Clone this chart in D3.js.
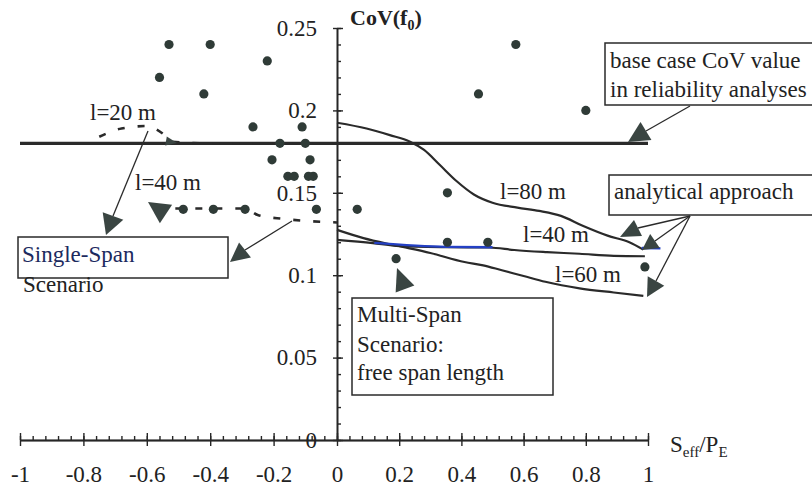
<!DOCTYPE html>
<html>
<head>
<meta charset="utf-8">
<script src="https://cdn.jsdelivr.net/npm/d3@7"></script>
<style>
  body { margin: 0; background: #fff; }
  text { font-family: "Liberation Serif", "Times New Roman", serif; fill: #222; }
</style>
</head>
<body>
<script>
// tick values and labels
var xTicks = [-1, -0.8, -0.6, -0.4, -0.2, 0, 0.2, 0.4, 0.6, 0.8, 1];
var xTickLabels = ["-1", "-0.8", "-0.6", "-0.4", "-0.2", "0", "0.2", "0.4", "0.6", "0.8", "1"];
var yTicks = [0, 0.05, 0.1, 0.15, 0.2, 0.25];
var yTickLabels = ["0", "0.05", "0.1", "0.15", "0.2", "0.25"];

// simulated CoV values [Seff/PE, CoV]
var simPoints = [
    [-0.53, 0.24], [-0.40, 0.24], [-0.56, 0.22], [-0.42, 0.21], [-0.22, 0.23],
    [-0.265, 0.19], [-0.11, 0.19], [-0.18, 0.18], [-0.10, 0.18],
    [-0.205, 0.17], [-0.085, 0.17],
    [-0.155, 0.16], [-0.135, 0.16], [-0.09, 0.16], [-0.075, 0.16],
    [-0.485, 0.14], [-0.39, 0.14], [-0.29, 0.14], [-0.065, 0.14],
    [0.065, 0.14], [0.355, 0.15], [0.355, 0.12], [0.485, 0.12], [0.19, 0.11],
    [0.455, 0.21], [0.575, 0.24], [0.80, 0.20], [0.99, 0.105]
];

// base case CoV used in reliability analyses
var baseCase = 0.18;

// analytical approach curves
var curve80 = [[0, 0.1925], [0.095, 0.189], [0.17, 0.185], [0.235, 0.181], [0.28, 0.176],
    [0.33, 0.167], [0.385, 0.157], [0.44, 0.149], [0.5, 0.144], [0.58, 0.141],
    [0.65, 0.139], [0.72, 0.136], [0.79, 0.130], [0.87, 0.124], [0.94, 0.120], [0.985, 0.1155]];
var curve40 = [[0, 0.1214], [0.115, 0.1195], [0.19, 0.1178], [0.35, 0.117], [0.49, 0.1168],
    [0.57, 0.1153], [0.675, 0.114], [0.78, 0.113], [0.89, 0.1117], [0.99, 0.1115]];
var curve60 = [[0, 0.1275], [0.085, 0.1225], [0.19, 0.118], [0.3, 0.1135], [0.41, 0.108],
    [0.47, 0.106], [0.53, 0.103], [0.6, 0.0995], [0.67, 0.096], [0.78, 0.092],
    [0.89, 0.0895], [0.985, 0.0875]];
var blue40 = [[0.12, 0.1196], [0.35, 0.1172], [0.5, 0.117], null, [0.98, 0.1165], [1.04, 0.1163]];

// single-span dashed curves
var dashed20 = [[-0.75, 0.184], [-0.68, 0.189], [-0.6, 0.1905], [-0.55, 0.186], [-0.52, 0.181], [-0.4, 0.18], [0, 0.18]];
var dashed40 = [[-0.51, 0.1405], [-0.4, 0.1405], [-0.29, 0.1405], [-0.25, 0.1365], [-0.17, 0.1342], [-0.1, 0.133], [0, 0.132]];

var width = 812;
var height = 490;
var ink = "#262626";

var svg = d3.select("body")
    .append("svg")
    .attr("width", width)
    .attr("height", height);

// x scale (scan is slightly uneven left/right of zero)
var xScale = d3.scaleLinear()
    .domain([-1, 0, 1])
    .range([20, 337, 648]);

var yScale = d3.scaleLinear()
    .domain([0, 0.25])
    .range([440, 28]);

var x0 = xScale(0);
var yZero = yScale(0);

// x axis: labels + down part of major ticks
var xAxis = d3.axisBottom(xScale)
    .tickValues(xTicks)
    .tickSize(6)
    .tickSizeOuter(0)
    .tickPadding(20)
    .tickFormat((d, i) => xTickLabels[i]);

var gx = svg.append("g")
    .attr("transform", "translate(0," + yZero + ")")
    .call(xAxis);

// up part of major ticks
svg.append("g")
    .attr("transform", "translate(0," + yZero + ")")
    .call(d3.axisTop(xScale).tickValues(xTicks).tickSize(7).tickSizeOuter(0).tickFormat(""));

// minor ticks every 0.04
svg.append("g")
    .attr("transform", "translate(0," + yZero + ")")
    .call(d3.axisTop(xScale).tickValues(d3.range(-25, 26).map(d => d * 0.04)).tickSize(4).tickSizeOuter(0).tickFormat(""));

// y axis
var yAxis = d3.axisLeft(yScale)
    .tickValues(yTicks)
    .tickSize(4)
    .tickSizeOuter(0)
    .tickPadding(16)
    .tickFormat((d, i) => yTickLabels[i]);

svg.append("g")
    .attr("transform", "translate(" + x0 + ",0)")
    .call(yAxis);

svg.append("g")
    .attr("transform", "translate(" + x0 + ",0)")
    .call(d3.axisRight(yScale).tickValues(yTicks).tickSize(6).tickSizeOuter(0).tickFormat(""));

svg.append("g")
    .attr("transform", "translate(" + x0 + ",0)")
    .call(d3.axisRight(yScale).tickValues(d3.range(0, 26).map(d => d * 0.01)).tickSize(4).tickSizeOuter(0).tickFormat(""));

svg.selectAll(".tick line, .domain")
    .attr("stroke", ink)
    .attr("stroke-width", 1.4);
svg.selectAll(".tick text")
    .attr("font-family", "Liberation Serif, serif")
    .attr("font-size", 23)
    .attr("fill", "#222");

// axis titles
var covTitle = svg.append("text")
    .attr("x", 350)
    .attr("y", 25)
    .attr("font-size", 22)
    .attr("font-weight", "bold");
covTitle.append("tspan").text("CoV(f");
covTitle.append("tspan").attr("dy", 5).attr("font-size", 14).text("0");
covTitle.append("tspan").attr("dy", -5).text(")");

var sTitle = svg.append("text")
    .attr("x", 670)
    .attr("y", 452)
    .attr("font-size", 23);
sTitle.append("tspan").text("S");
sTitle.append("tspan").attr("dy", 5).attr("font-size", 15).text("eff");
sTitle.append("tspan").attr("dy", -5).text("/P");
sTitle.append("tspan").attr("dy", 5).attr("font-size", 15).text("E");

// base case line
svg.append("line")
    .attr("x1", xScale(-1))
    .attr("x2", xScale(1))
    .attr("y1", yScale(baseCase))
    .attr("y2", yScale(baseCase))
    .attr("stroke", "#2a2a2a")
    .attr("stroke-width", 3.2);

var line = d3.line()
    .defined(d => d)
    .x(d => xScale(d[0]))
    .y(d => yScale(d[1]))
    .curve(d3.curveMonotoneX);

// analytical curves
[curve80, curve60, curve40].forEach(function(c) {
    svg.append("path")
        .attr("d", line(c))
        .attr("fill", "none")
        .attr("stroke", "#2a2a2a")
        .attr("stroke-width", 2.2);
});

svg.append("path")
    .attr("d", line(blue40))
    .attr("fill", "none")
    .attr("stroke", "#2440c4")
    .attr("stroke-width", 2.4);

// dashed single-span curves
[dashed20, dashed40].forEach(function(c) {
    svg.append("path")
        .attr("d", line(c))
        .attr("fill", "none")
        .attr("stroke", "#2a2a2a")
        .attr("stroke-width", 2.6)
        .attr("stroke-dasharray", "7,13");
});

// simulated points
svg.selectAll("circle.sim")
    .data(simPoints)
    .enter()
    .append("circle")
    .attr("class", "sim")
    .attr("cx", d => xScale(d[0]))
    .attr("cy", d => yScale(d[1]))
    .attr("r", 4.6)
    .attr("fill", "#2f3b37");

// annotation arrows: line start, head tip, head back (pixels)
var arrows = [
    { from: [690, 106], tip: [628, 142], back: [646, 131], w: 21 },
    { from: [690, 216], tip: [620, 237], back: [638, 228], w: 18 },
    { from: [690, 216], tip: [642, 250], back: [655, 241], w: 17 },
    { from: [690, 216], tip: [647, 297], back: [656, 281], w: 19 },
    { from: [148, 131], tip: [106, 235], back: [113, 216], w: 22 },
    { from: [292, 221], tip: [230, 262], back: [245, 250], w: 19 },
    { tip: [397, 268], back: [405, 289], w: 20 },
    { tip: [148, 202], back: [166, 214], w: 22 },
    { tip: [177, 143], back: [166, 141], w: 9 }
];

arrows.forEach(function(a) {
    if (a.from) {
        svg.append("line")
            .attr("x1", a.from[0]).attr("y1", a.from[1])
            .attr("x2", a.back[0]).attr("y2", a.back[1])
            .attr("stroke", "#2a2a2a")
            .attr("stroke-width", 1.3);
    }
    var dx = a.tip[0] - a.back[0], dy = a.tip[1] - a.back[1];
    var len = Math.sqrt(dx * dx + dy * dy);
    var nx = -dy / len * a.w / 2, ny = dx / len * a.w / 2;
    var pts = [a.tip, [a.back[0] + nx, a.back[1] + ny], [a.back[0] - nx, a.back[1] - ny]];
    svg.append("polygon")
        .attr("points", pts.map(p => p.join(",")).join(" "))
        .attr("fill", "#3a4542");
});

// boxes
var boxes = [
    { x: 605, y: 43, w: 215, h: 62 },
    { x: 609, y: 175, w: 210, h: 40 },
    { x: 18, y: 237, w: 210, h: 41 },
    { x: 352, y: 298, w: 201, h: 97 }
];
svg.selectAll("rect.box")
    .data(boxes)
    .enter()
    .append("rect")
    .attr("class", "box")
    .attr("x", d => d.x)
    .attr("y", d => d.y)
    .attr("width", d => d.w)
    .attr("height", d => d.h)
    .attr("fill", "#fff")
    .attr("stroke", "#2a2a2a")
    .attr("stroke-width", 1.5);

// annotation texts
var labels = [
    { t: "base case CoV value", x: 610, y: 68 },
    { t: "in reliability analyses", x: 610, y: 97 },
    { t: "analytical approach", x: 614, y: 199 },
    { t: "Single-Span", x: 22, y: 262, c: "#1c2a5e" },
    { t: "Scenario", x: 23, y: 292 },
    { t: "Multi-Span", x: 357, y: 322 },
    { t: "Scenario:", x: 357, y: 352 },
    { t: "free span length", x: 357, y: 380 },
    { t: "l=20 m", x: 90, y: 120 },
    { t: "l=40 m", x: 135, y: 190 },
    { t: "l=80 m", x: 500, y: 199 },
    { t: "l=40 m", x: 523, y: 242 },
    { t: "l=60 m", x: 555, y: 282 }
];
svg.selectAll("text.lbl")
    .data(labels)
    .enter()
    .append("text")
    .attr("class", "lbl")
    .attr("x", d => d.x)
    .attr("y", d => d.y)
    .attr("font-size", 23)
    .style("fill", d => d.c || "#222")
    .text(d => d.t);
</script>
</body>
</html>
